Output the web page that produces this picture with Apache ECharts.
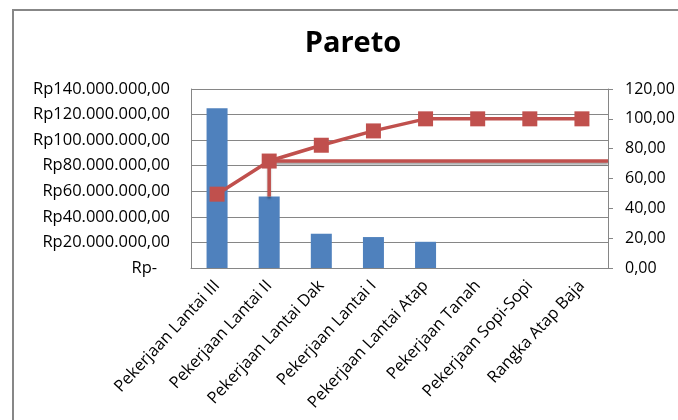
<!DOCTYPE html>
<html>
<head>
<meta charset="utf-8">
<script src="https://cdn.jsdelivr.net/npm/echarts@6/dist/echarts.min.js"></script>
<style>
  html, body { margin: 0; padding: 0; background: #fff; overflow: hidden; width: 678px; height: 420px; }
  #bingkai { position: absolute; left: 12px; top: 9px; width: 900px; height: 700px;
             border-left: 2px solid #878787; border-top: 2px solid #878787; }
  #pareto { position: absolute; left: 0; top: 0; }
</style>
</head>
<body>
<div id="bingkai"></div>
<div id="pareto" style="width: 678px; height: 420px;"></div>
<script>
// data
const categories = ['Pekerjaan Lantai III', 'Pekerjaan Lantai II', 'Pekerjaan Lantai Dak', 'Pekerjaan Lantai I',
  'Pekerjaan Lantai Atap', 'Pekerjaan Tanah', 'Pekerjaan Sopi-Sopi', 'Rangka Atap Baja']
const biaya = [125000000, 56000000, 26800000, 24200000, 20500000, 0, 0, 0]   // Rp
const kumulatif = [49.5, 71.7, 82.3, 91.9, 100, 100, 100, 100]              // %
const leftTicks = [0, 20000000, 40000000, 60000000, 80000000, 100000000, 120000000, 140000000]
const rightTicks = [0, 20, 40, 60, 80, 100, 120]

const leftMax = leftTicks[leftTicks.length - 1]
const rightMax = rightTicks[rightTicks.length - 1]

function rupiah(v) {
  if (v === 0) return 'Rp-   '
  return 'Rp' + String(v).replace(/\B(?=(\d{3})+(?!\d))/g, '.') + ',00'
}

// garis bantu: turun dari titik ke-2 ke puncak batang ke-2, lalu mendatar ke kanan
const bantuY = biaya[1] / leftMax * rightMax
const garisBantu = [[1.5, bantuY], [1.5, kumulatif[1]], [categories.length, kumulatif[1]]]

const font = 'Open Sans'
let chart = echarts.init(document.getElementById('pareto'))
chart.setOption({
  animation: false,
  textStyle: { fontFamily: font },
  title: {
    text: 'Pareto',
    left: 348,
    top: 24,
    textAlign: 'center',
    textStyle: { fontFamily: font, fontSize: 29, fontWeight: 'bold', color: '#000' }
  },
  grid: { left: 191, right: 70, top: 89, bottom: 152 },
  xAxis: [{
    type: 'category',
    data: categories,
    axisLine: { lineStyle: { color: '#868686' } },
    axisTick: { show: false },
    axisLabel: { rotate: 47, interval: 0, margin: 15, color: '#000', fontSize: 16.5, fontFamily: font }
  }, {
    // sumbu bantu untuk garis referensi
    type: 'value',
    min: 0,
    max: categories.length,
    show: false
  }],
  yAxis: [{
    type: 'value',
    min: 0,
    max: leftMax,
    interval: leftTicks[1],
    axisLine: { show: true, lineStyle: { color: '#868686' } },
    axisTick: { show: false },
    splitLine: { lineStyle: { color: '#868686' } },
    axisLabel: { formatter: rupiah, color: '#000', fontSize: 16.5, margin: 21, fontFamily: font }
  }, {
    type: 'value',
    min: 0,
    max: rightMax,
    interval: rightTicks[1],
    axisLine: { show: true, lineStyle: { color: '#868686' } },
    axisTick: { show: true, length: 5, lineStyle: { color: '#868686' } },
    splitLine: { show: false },
    axisLabel: {
      formatter: v => v.toFixed(2).replace('.', ','),
      color: '#000', fontSize: 16, margin: 17, fontFamily: font
    }
  }],
  series: [
    {
      name: 'Biaya',
      type: 'bar',
      data: biaya,
      barWidth: 21,
      itemStyle: { color: '#4f81bd' }
    },
    {
      name: 'Garis bantu',
      type: 'line',
      xAxisIndex: 1,
      yAxisIndex: 1,
      data: garisBantu,
      symbol: 'none',
      z: 3,
      lineStyle: {
        color: '#c0504d', width: 3.5,
        shadowColor: 'rgba(0,0,0,0.35)', shadowBlur: 2, shadowOffsetY: 2
      }
    },
    {
      name: 'Kumulatif',
      type: 'line',
      yAxisIndex: 1,
      data: kumulatif,
      symbol: 'rect',
      symbolSize: 15,
      z: 4,
      lineStyle: { color: '#c0504d', width: 3.5 },
      itemStyle: { color: '#c0504d' }
    }
  ]
})
</script>
</body>
</html>
